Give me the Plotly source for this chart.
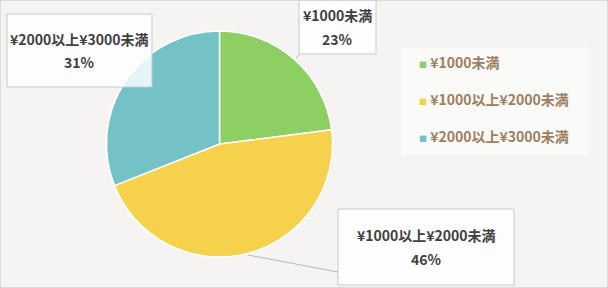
import plotly.graph_objects as go

# ---- data ----
categories = ["¥1000未満", "¥1000以上¥2000未満", "¥2000以上¥3000未満"]
values = [23, 46, 31]
colors = ["#8dcf62", "#f6d24c", "#74c1c6"]

W, H = 608, 288
FONT = "Noto Sans CJK JP"

def px(x):
    return x / W

def py(y):
    return 1 - y / H

# pie geometry (pixels)
cx, cy, r = 219.5, 144, 113

fig = go.Figure()
fig.add_trace(go.Pie(
    labels=categories, values=values, sort=False, direction="clockwise",
    rotation=0, marker=dict(colors=colors, line=dict(color="white", width=1.5)),
    textinfo="none", showlegend=False, hoverinfo="label+percent",
    domain=dict(x=[px(cx - r), px(cx + r)], y=[py(cy + r), py(cy - r)]),
))

# legend entries (dummy traces for spacing control)
for i, (c, col) in enumerate(zip(categories, colors)):
    fig.add_trace(go.Scatter(
        x=[None], y=[None], mode="markers", legendgroup=f"g{i}",
        name=f"<span style='color:{col};font-size:8px'>■</span> {c}",
        marker=dict(symbol="square", size=7, color="rgba(0,0,0,0)"),
    ))

total = sum(values)
pcts = [f"{round(v / total * 100)}%" for v in values]

# callout boxes (pixels: x0, y0, x1, y1)
boxes = [(299, 0, 376, 54), (338, 209, 514, 285), (7, 14, 152, 87)]
shapes = []
annotations = []
for (x0, y0, x1, y1), lab, p in zip(boxes, categories, pcts):
    shapes.append(dict(type="rect", xref="paper", yref="paper",
                       x0=px(x0), x1=px(x1), y0=py(y1), y1=py(y0),
                       line=dict(color="#c8c8c8", width=1),
                       fillcolor="rgba(255,255,255,0.82)", layer="above"))
    mx = (x0 + x1) / 2
    my = (y0 + y1) / 2
    for txt, dy in ((lab, -12), (p, 12)):
        annotations.append(dict(xref="paper", yref="paper", x=px(mx), y=py(my + dy),
                                xanchor="center", yanchor="middle",
                                text=f"<b>{txt}</b>", showarrow=False,
                                font=dict(family=FONT, size=14, color="#404040")))

# leader lines
shapes.append(dict(type="line", xref="paper", yref="paper",
                   x0=px(248), y0=py(255), x1=px(338), y1=py(272),
                   line=dict(color="#b8b8b8", width=1)))
shapes.append(dict(type="line", xref="paper", yref="paper",
                   x0=px(300), y0=py(54), x1=px(296), y1=py(58),
                   line=dict(color="#b8b8b8", width=1)))

# legend panel & outer border
shapes.insert(0, dict(type="rect", xref="paper", yref="paper",
                      x0=px(402), x1=px(588), y0=py(155), y1=py(47),
                      line=dict(width=0), fillcolor="#fafaf9", layer="below"))
shapes.append(dict(type="rect", xref="paper", yref="paper",
                   x0=0, x1=1, y0=0, y1=1,
                   line=dict(color="#d4d4d4", width=1.5), layer="above"))

fig.update_layout(
    width=W, height=H, margin=dict(l=0, r=0, t=0, b=0),
    paper_bgcolor="#f5f4f2", plot_bgcolor="rgba(0,0,0,0)",
    xaxis=dict(visible=False), yaxis=dict(visible=False),
    shapes=shapes, annotations=annotations,
    legend=dict(x=px(379), y=py(47), xanchor="left", yanchor="top",
                bgcolor="rgba(0,0,0,0)", tracegroupgap=16,
                font=dict(family=FONT, size=14, color="#9e7e5e", weight="bold"),
                itemwidth=30),
)

fig.write_html("out.html")
